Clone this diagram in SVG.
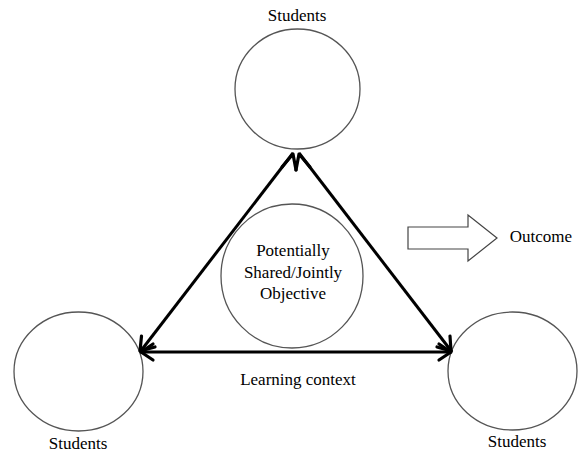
<svg xmlns="http://www.w3.org/2000/svg" width="579" height="455" viewBox="0 0 579 455">
<defs>
<style>
.node{fill:#fff;stroke:#555;stroke-width:1.3}
.lbl{font-family:'Liberation Serif','DejaVu Serif','Times New Roman',serif;font-size:17px;fill:#000;text-anchor:middle}
.conn{stroke:#000;stroke-width:3;fill:none}
.head{stroke:#000;stroke-width:3.2;fill:none;stroke-linecap:round;stroke-linejoin:round}
</style>
</defs>
<rect width="579" height="455" fill="#fff"/>
<g id="students-top">
<ellipse class="node" cx="297.5" cy="89" rx="62.5" ry="60"/>
<text class="lbl" x="297" y="21">Students</text>
</g>
<g id="students-left">
<ellipse class="node" cx="78.5" cy="371.5" rx="64.5" ry="59.5"/>
<text class="lbl" x="78" y="449">Students</text>
</g>
<g id="students-right">
<ellipse class="node" cx="512.5" cy="371" rx="64.5" ry="59"/>
<text class="lbl" x="517" y="447">Students</text>
</g>
<g id="objective">
<ellipse class="node" cx="292" cy="276" rx="71" ry="72"/>
<text class="lbl" x="293" y="256">Potentially</text>
<text class="lbl" x="293" y="278">Shared/Jointly</text>
<text class="lbl" x="293" y="299">Objective</text>
</g>
<g id="outcome">
<path d="M408,227 H468 V215 L497,238 L468,261 V249 H408 Z" fill="#fff" stroke="#444" stroke-width="1.2"/>
<text class="lbl" x="541" y="242">Outcome</text>
</g>
<g id="connectors">
<line class="conn" x1="293" y1="153" x2="140" y2="352"/>
<line class="conn" x1="299" y1="153" x2="452" y2="352"/>
<line class="conn" x1="140" y1="352" x2="452" y2="352"/>
<path class="head" d="M282,167 L293,154 L296,170"/>
<path class="head" d="M296,170 L299,154 L310,167"/>
<path class="head" d="M141.5,336 L140,351 L155,347"/>
<path class="head" d="M153,344 L141,352 L153,360"/>
<path class="head" d="M439,344 L451,352 L439,360"/>
<path class="head" d="M437,347 L451,351 L450,336"/>
<text class="lbl" x="298" y="385">Learning context</text>
</g>
</svg>
